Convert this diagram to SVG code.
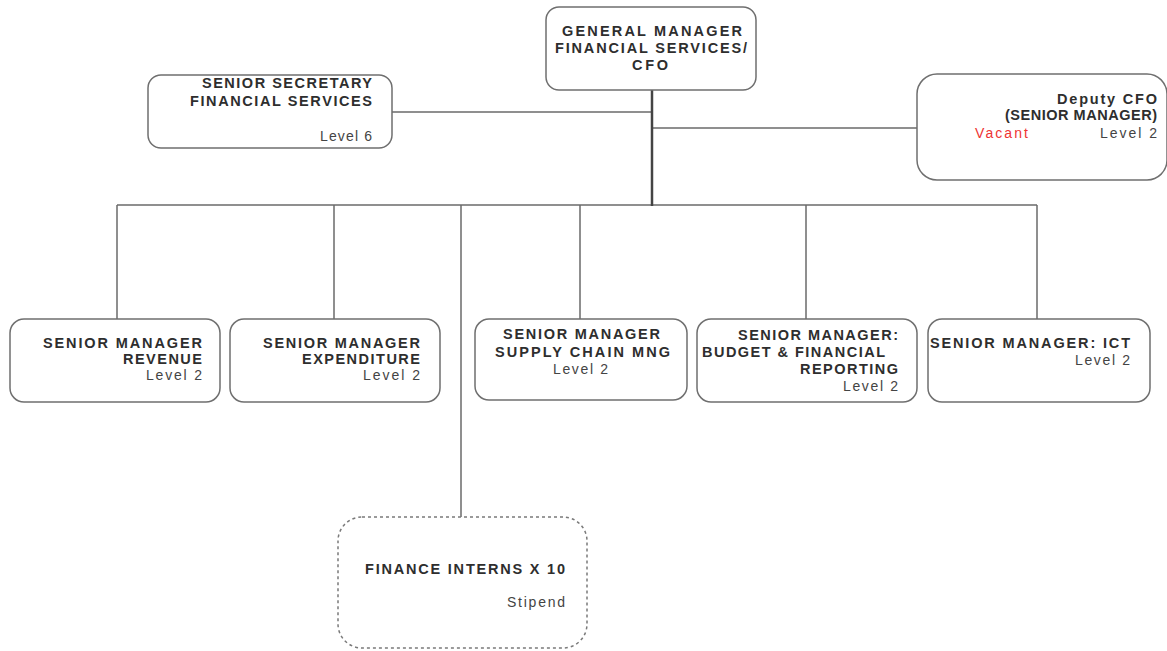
<svg xmlns="http://www.w3.org/2000/svg" width="1167" height="651" viewBox="0 0 1167 651">
  <style>
    .box { fill: #ffffff; stroke: #6f6f6f; stroke-width: 1.5; }
    .dashed { fill: #ffffff; stroke: #7a7a7a; stroke-width: 1.5; stroke-dasharray: 3 3; }
    .line { stroke: #6a6a6a; stroke-width: 1.5; fill: none; }
    .trunk { stroke: #444444; stroke-width: 2.5; fill: none; }
    .t { font-family: "Liberation Sans", Arial, sans-serif; font-size: 14.5px; font-weight: bold; fill: #2e2e2e; }
    .lv { font-family: "Liberation Sans", Arial, sans-serif; font-size: 14px; fill: #444444; }
    .red { font-family: "Liberation Sans", Arial, sans-serif; font-size: 14px; fill: #ee3333; }
  </style>
  <rect width="1167" height="651" fill="#ffffff"/>

  <!-- reporting lines -->
  <g id="connectors">
    <line class="line" x1="392" y1="112" x2="652" y2="112"/>
    <line class="line" x1="652" y1="128" x2="917" y2="128"/>
    <line class="line" x1="117" y1="205" x2="1037" y2="205"/>
    <line class="line" x1="117" y1="205" x2="117" y2="319"/>
    <line class="line" x1="334" y1="205" x2="334" y2="319"/>
    <line class="line" x1="461" y1="205" x2="461" y2="517"/>
    <line class="line" x1="580" y1="205" x2="580" y2="319"/>
    <line class="line" x1="806" y1="205" x2="806" y2="319"/>
    <line class="line" x1="1037" y1="205" x2="1037" y2="319"/>
    <line class="trunk" x1="652" y1="90" x2="652" y2="206"/>
  </g>

  <g id="gm">
    <rect class="box" x="546" y="7" width="210" height="83" rx="13"/>
    <text class="t" x="562" y="36" textLength="180" lengthAdjust="spacing">GENERAL MANAGER</text>
    <text class="t" x="555" y="53" textLength="192" lengthAdjust="spacing">FINANCIAL SERVICES/</text>
    <text class="t" x="632" y="70" textLength="36" lengthAdjust="spacing">CFO</text>
  </g>

  <g id="secretary">
    <rect class="box" x="148" y="75" width="244" height="73" rx="13"/>
    <text class="t" x="202" y="88" textLength="170" lengthAdjust="spacing">SENIOR SECRETARY</text>
    <text class="t" x="190" y="106" textLength="182" lengthAdjust="spacing">FINANCIAL SERVICES</text>
    <text class="lv" x="320" y="141" textLength="52" lengthAdjust="spacing">Level 6</text>
  </g>

  <g id="deputy-cfo">
    <rect class="box" x="917" y="74" width="250" height="106" rx="20"/>
    <text class="t" x="1057" y="104" textLength="100" lengthAdjust="spacing">Deputy CFO</text>
    <text class="t" x="1005" y="120" textLength="152" lengthAdjust="spacing">(SENIOR MANAGER)</text>
    <text class="red" x="975" y="138" textLength="53" lengthAdjust="spacing">Vacant</text>
    <text class="lv" x="1100" y="138" textLength="57" lengthAdjust="spacing">Level 2</text>
  </g>

  <g id="revenue">
    <rect class="box" x="10" y="319" width="210" height="83" rx="14"/>
    <text class="t" x="43" y="348" textLength="159" lengthAdjust="spacing">SENIOR MANAGER</text>
    <text class="t" x="123" y="364" textLength="79" lengthAdjust="spacing">REVENUE</text>
    <text class="lv" x="146" y="380" textLength="56" lengthAdjust="spacing">Level 2</text>
  </g>

  <g id="expenditure">
    <rect class="box" x="230" y="319" width="210" height="83" rx="14"/>
    <text class="t" x="263" y="348" textLength="157" lengthAdjust="spacing">SENIOR MANAGER</text>
    <text class="t" x="302" y="364" textLength="118" lengthAdjust="spacing">EXPENDITURE</text>
    <text class="lv" x="363" y="380" textLength="57" lengthAdjust="spacing">Level 2</text>
  </g>

  <g id="supply-chain">
    <rect class="box" x="475" y="319" width="212" height="81" rx="14"/>
    <text class="t" x="503" y="339" textLength="157" lengthAdjust="spacing">SENIOR MANAGER</text>
    <text class="t" x="495" y="357" textLength="175" lengthAdjust="spacing">SUPPLY CHAIN MNG</text>
    <text class="lv" x="553" y="374" textLength="55" lengthAdjust="spacing">Level 2</text>
  </g>

  <g id="budget">
    <rect class="box" x="697" y="319" width="220" height="83" rx="14"/>
    <text class="t" x="738" y="340" textLength="160" lengthAdjust="spacing">SENIOR MANAGER:</text>
    <text class="t" x="702" y="357" textLength="183" lengthAdjust="spacing">BUDGET &amp; FINANCIAL</text>
    <text class="t" x="800" y="374" textLength="98" lengthAdjust="spacing">REPORTING</text>
    <text class="lv" x="843" y="391" textLength="55" lengthAdjust="spacing">Level 2</text>
  </g>

  <g id="ict">
    <rect class="box" x="928" y="319" width="222" height="83" rx="14"/>
    <text class="t" x="930" y="348" textLength="200" lengthAdjust="spacing">SENIOR MANAGER: ICT</text>
    <text class="lv" x="1075" y="365" textLength="55" lengthAdjust="spacing">Level 2</text>
  </g>

  <g id="interns">
    <rect class="dashed" x="338" y="517" width="249" height="131" rx="24"/>
    <text class="t" x="365" y="574" textLength="200" lengthAdjust="spacing">FINANCE INTERNS X 10</text>
    <text class="lv" x="507" y="607" textLength="58" lengthAdjust="spacing">Stipend</text>
  </g>
</svg>
